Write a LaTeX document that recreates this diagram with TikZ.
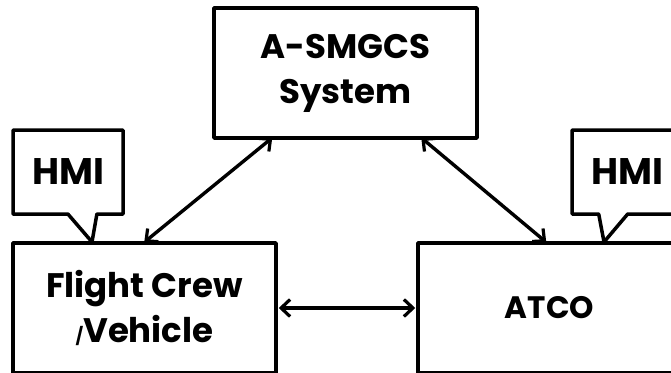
\documentclass[tikz,border=0pt]{standalone}
\usepackage{fontspec}
\setmainfont{Poppins}
\usetikzlibrary{arrows.meta,shapes.callouts}
\newcommand{\smallslash}{{\fontsize{17}{17}\selectfont/}}
\tikzset{
  blk/.style={draw, line width=3.5pt, line join=round, minimum width=263pt, minimum height=130pt,
    align=center, inner sep=0pt, font=\bfseries\fontsize{34}{45}\selectfont},
  hmi/.style={rectangle callout, draw, line width=3.5pt, line join=round, minimum width=110pt,
    minimum height=84pt, inner sep=0pt, callout pointer width=29pt, font=\bfseries\fontsize{37}{40}\selectfont},
  link/.style={line width=3.4pt, {Straight Barb[length=9pt,width=17pt,line width=3.2pt]}-{Straight Barb[length=9pt,width=17pt,line width=3.2pt]}}
}
\begin{document}
\begin{tikzpicture}[x=1pt,y=-1pt]
\useasboundingbox (0,0) rectangle (671,372);
\node[blk] (sys) at (345.5,73) {A-SMGCS\\System};
\node[blk] (fc) at (144.5,308) {Flight Crew\\\smallslash Vehicle};
\node[blk, font=\bfseries\fontsize{31}{40}\selectfont] (atco) at (549.5,308) {ATCO};
\node[hmi, callout absolute pointer={(92,242)}] (hmiL) at (68,172) {HMI};
\node[hmi, callout absolute pointer={(604,242)}] (hmiR) at (627,172) {HMI};
\draw[link] ([xshift=133pt,yshift=-1pt]fc.north west) -- ([xshift=60pt,yshift=2pt]sys.south west);
\draw[link] ([xshift=209pt,yshift=2pt]sys.south west) -- ([xshift=130pt,yshift=-1pt]atco.north west);
\draw[link] ([xshift=1pt]fc.east) -- ([xshift=-1pt]atco.west);
\end{tikzpicture}
\end{document}
